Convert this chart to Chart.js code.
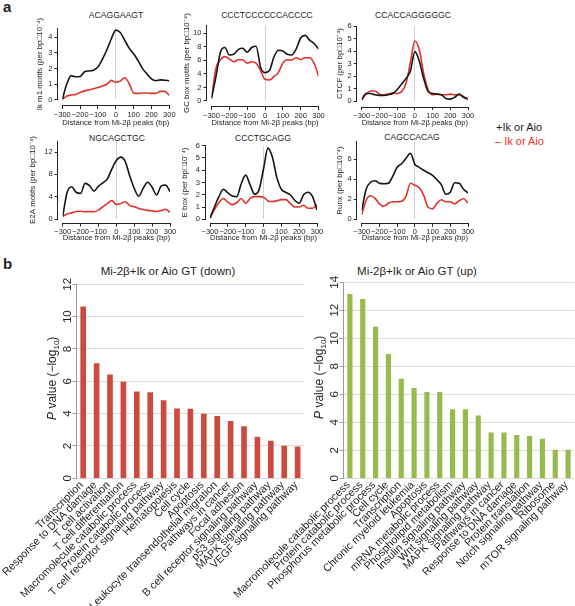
<!DOCTYPE html>
<html>
<head>
<meta charset="utf-8">
<script src="https://cdn.jsdelivr.net/npm/chart.js@4/dist/chart.umd.min.js"></script>
<style>
body { margin: 0; background: #fff; width: 575px; height: 606px; position: relative; overflow: hidden;
       font-family: "Liberation Sans", Arial, sans-serif; color: #1e1e1e; }
canvas.layer { position: absolute; left: 0; top: 0; }
.txt { position: absolute; white-space: nowrap; transform: translate(-50%, -50%); }
.panel { position: absolute; font-weight: bold; font-size: 15px; }
.motif { font-size: 8.6px; }
.btitle { font-size: 11.5px; }
.legend { position: absolute; white-space: nowrap; font-size: 11px; transform: translateY(-50%); }
</style>
</head>
<body>
<div class="panel" style="left:3px;top:-2px">a</div>
<div class="panel" style="left:3px;top:255px">b</div>

<div class="txt motif" style="left:116px;top:15px">ACAGGAAGT</div>
<div class="txt motif" style="left:267px;top:15px">CCCTCCCCCCACCCC</div>
<div class="txt motif" style="left:413px;top:15px">CCACCAGGGGGC</div>
<div class="txt motif" style="left:117px;top:138px">NGCAGCTGC</div>
<div class="txt motif" style="left:263px;top:138px">CCCTGCAGG</div>
<div class="txt motif" style="left:412px;top:137px">CAGCCACAG</div>

<div class="legend" style="left:496px;top:127px">+Ik or Aio</div>
<div class="legend" style="left:495px;top:141px;color:#e4322b">– Ik or Aio</div>

<div class="txt btitle" style="left:168px;top:271px">Mi-2β+Ik or Aio GT (down)</div>
<div class="txt btitle" style="left:417px;top:271px">Mi-2β+Ik or Aio GT (up)</div>

<canvas id="ikm1" class="layer" width="575" height="606"></canvas>
<canvas id="gcbox" class="layer" width="575" height="606"></canvas>
<canvas id="ctcf" class="layer" width="575" height="606"></canvas>
<canvas id="e2a" class="layer" width="575" height="606"></canvas>
<canvas id="ebox" class="layer" width="575" height="606"></canvas>
<canvas id="runx" class="layer" width="575" height="606"></canvas>
<canvas id="goDown" class="layer" width="575" height="606"></canvas>
<canvas id="goUp" class="layer" width="575" height="606"></canvas>

<script>
// ===== DATA =====
// distance from Mi-2b peaks (bp), sampled every 25 bp
const distanceBp = [-300, -275, -250, -225, -200, -175, -150, -125, -100, -75, -50, -25, 0,
                    25, 50, 75, 100, 125, 150, 175, 200, 225, 250, 275, 300];
const distanceTicks = [-300, -200, -100, 0, 100, 200, 300];

// motif density, +Ik or Aio (black) and - Ik or Aio (red)
const ikm1Plus  = [0.05, 1.0, 1.55, 1.48, 1.5, 1.8, 1.85, 1.9, 2.1, 2.6, 3.2, 3.9, 4.45, 4.3, 3.8, 3.3, 2.94, 2.5, 2.0, 1.66, 1.34, 1.23, 1.28, 1.26, 1.23];
const ikm1Minus = [0.05, 0.25, 0.32, 0.35, 0.48, 0.58, 0.65, 0.72, 0.8, 0.9, 1.0, 1.25, 1.12, 1.2, 1.42, 1.05, 0.45, 0.42, 0.45, 0.45, 0.42, 0.42, 0.55, 0.55, 0.3];

const gcboxPlus  = [0.4, 3.6, 7.2, 7.9, 6.8, 6.9, 7.6, 7.8, 7.2, 7.9, 8.1, 5.0, 4.2, 4.5, 6.5, 7.5, 7.4, 6.9, 6.8, 7.7, 9.3, 9.7, 9.0, 8.5, 7.7];
const gcboxMinus = [0.4, 4.8, 6.1, 6.55, 6.2, 5.8, 6.1, 6.1, 5.6, 5.8, 5.6, 4.5, 3.2, 3.1, 3.6, 4.2, 5.6, 6.1, 6.05, 6.4, 6.1, 6.4, 6.4, 5.6, 3.7];

const ctcfPlus  = [0.1, 0.6, 0.6, 0.5, 0.45, 0.45, 0.5, 0.6, 0.9, 1.35, 1.8, 2.4, 3.95, 3.2, 1.8, 0.75, 0.6, 0.55, 0.5, 0.2, 0.15, 0.3, 0.55, 0.3, 0.15];
const ctcfMinus = [0.1, 0.55, 0.8, 0.8, 0.55, 0.5, 0.55, 0.65, 0.6, 0.75, 1.4, 3.1, 4.8, 4.1, 2.2, 0.9, 0.5, 0.55, 0.5, 0.5, 0.55, 0.5, 0.5, 0.35, 0.15];

const e2aPlus  = [0.5, 4.8, 5.8, 4.8, 4.6, 6.4, 6.0, 5.0, 5.9, 6.5, 7.2, 9.0, 10.5, 11.1, 10.3, 7.7, 5.5, 4.1, 5.5, 6.6, 5.7, 4.3, 5.9, 6.1, 4.9];
const e2aMinus = [0.5, 0.9, 1.1, 1.35, 1.4, 1.3, 1.35, 1.3, 1.6, 2.2, 2.8, 3.3, 2.6, 2.8, 3.1, 2.4, 2.2, 1.9, 1.7, 1.55, 1.45, 1.35, 1.5, 1.75, 1.2];

const eboxPlus  = [0.1, 1.0, 1.85, 2.45, 2.15, 1.9, 1.85, 2.9, 3.6, 2.8, 2.05, 2.4, 4.1, 5.8, 5.05, 3.4, 2.45, 2.2, 2.0, 1.55, 1.3, 2.0, 2.2, 1.85, 0.75];
const eboxMinus = [0.1, 0.8, 1.35, 1.7, 1.4, 1.2, 1.35, 1.7, 1.3, 1.7, 1.85, 1.85, 1.8, 1.5, 1.45, 1.5, 1.6, 1.6, 1.3, 1.0, 1.0, 1.15, 0.9, 0.9, 1.2];

const runxPlus  = [0.9, 3.0, 3.7, 3.85, 3.6, 3.55, 3.6, 4.3, 5.2, 5.55, 6.1, 6.6, 5.5, 5.2, 4.9, 4.65, 4.4, 3.95, 3.45, 2.5, 2.7, 3.65, 3.6, 3.0, 2.65];
const runxMinus = [0.45, 1.9, 2.35, 2.1, 1.55, 1.3, 1.6, 1.75, 1.75, 1.8, 2.3, 3.6, 3.4, 3.15, 2.4, 1.2, 1.05, 1.6, 1.95, 1.75, 1.75, 1.55, 1.85, 2.05, 1.65];

// GO / pathway enrichment, P value (-log10)
const downTerms = ['Transcription', 'Response to DNA damage', 'T cell activation', 'T cell differentiation',
  'Macromolecule catabolic process', 'Protein catabolic process', 'T cell receptor signaling pathway',
  'Hematopoiesis', 'Cell cycle', 'Apoptosis', 'Leukocyte transendothelial migration', 'Pathways in cancer',
  'Focal adhesion', 'B cell receptor signaling pathway', 'p53 signaling pathway', 'MAPK signaling pathway',
  'VEGF signaling pathway'];
const downP = [10.6, 7.1, 6.4, 5.95, 5.35, 5.3, 4.8, 4.3, 4.28, 3.97, 3.83, 3.52, 3.2, 2.55, 2.3, 2.0, 1.95];

const upTerms = ['Macromolecule catabolic process', 'Protein catabolic process', 'Phosphorus metabolic process',
  'Cell cycle', 'Transcription', 'Chronic myeloid leukemia', 'Apoptosis', 'mRNA metabolic process',
  'Phospholipid metabolism', 'Insulin signaling pathway', 'Wnt signaling pathway', 'MAPK signaling pathway',
  'Pathways in cancer', 'Response to DNA damage', 'Protein translation', 'Notch signaling pathway',
  'Ribosome', 'mTOR signaling pathway'];
const upP = [13.14, 12.79, 10.8, 8.86, 7.09, 6.43, 6.14, 6.14, 4.9, 4.9, 4.47, 3.24, 3.24, 3.07, 3.0, 2.81, 2.02, 2.02];

const yTickDown = [0, 2, 4, 6, 8, 10, 12];
const yTickUp = [0, 2, 4, 6, 8, 10, 12, 14];

// ===== STYLE =====
const FONT = '"Liberation Sans", Arial, sans-serif';
const BLACK = '#141414';
const RED = '#e4322b';
const PAGE_W = 575, PAGE_H = 606;
const AXIS_TITLE = 7.9;

Chart.defaults.font.family = FONT;
Chart.defaults.color = '#1e1e1e';

// moves the axes off the data area (R-style detached axes)
const axisShift = {
  id: 'axisShift',
  afterLayout(chart, args, opts) {
    const { x, y } = chart.scales;
    if (opts.x) { x.top += opts.x; x.bottom += opts.x; }
    if (opts.y) { y.left += opts.y; y.right += opts.y; }
  }
};

// rotated y tick labels, y title and slanted category labels for the bar charts
const sideLabels = {
  id: 'sideLabels',
  afterDraw(chart, args, opts) {
    const { ctx, chartArea } = chart;
    const { x, y } = chart.scales;
    ctx.save();
    ctx.fillStyle = '#1e1e1e';
    ctx.textBaseline = 'middle';
    ctx.textAlign = 'center';
    ctx.font = '11.5px ' + FONT;
    y.ticks.forEach(t => {
      ctx.save();
      ctx.translate(chartArea.left - opts.tickGap, y.getPixelForValue(t.value));
      ctx.rotate(-Math.PI / 2);
      ctx.fillText(String(t.value), 0, 0);
      ctx.restore();
    });

    // category names, slanted, ending under their bar
    ctx.font = '10.8px ' + FONT;
    ctx.textAlign = 'right';
    chart.data.labels.forEach((lab, i) => {
      ctx.save();
      ctx.translate(x.getPixelForValue(i) - 1.5, chartArea.bottom + 5);
      ctx.rotate(-Math.PI / 4);
      ctx.fillText(lab, 0, 0);
      ctx.restore();
    });

    // "P value (-log10)" with italic P and subscript 10
    const parts = [
      { s: 'P', f: 'italic 12px ' + FONT, dy: 0 },
      { s: ' value (\u2212log', f: '12px ' + FONT, dy: 0 },
      { s: '10', f: '8px ' + FONT, dy: 3 },
      { s: ')', f: '12px ' + FONT, dy: 0 }
    ];
    let total = 0;
    parts.forEach(p => { ctx.font = p.f; p.w = ctx.measureText(p.s).width; total += p.w; });
    ctx.translate(chartArea.left - opts.titleGap, (chartArea.top + chartArea.bottom) / 2 - 3);
    ctx.rotate(-Math.PI / 2);
    ctx.textAlign = 'left';
    ctx.textBaseline = 'alphabetic';
    let cx = -total / 2;
    parts.forEach(p => { ctx.font = p.f; ctx.fillText(p.s, cx, 4 + p.dy); cx += p.w; });
    ctx.restore();
  }
};

function minusSign(v) {
  return String(v).replace('-', '\u2212');
}

function points(vals) {
  return distanceBp.map((d, i) => ({ x: d, y: vals[i] }));
}

// ===== MOTIF LINE CHARTS =====
function motifChart(id, plus, minus, yTitle, box) {
  const lh = AXIS_TITLE * 1.2;
  const W = box.l - 5 + lh / 2 - box.titleX;
  const H = box.xTitleY - box.b - box.xShift + lh / 2;
  new Chart(document.getElementById(id), {
    type: 'line',
    data: {
      datasets: [
        { data: points(plus), borderColor: BLACK, borderWidth: 1.6, pointRadius: 0, cubicInterpolationMode: 'monotone' },
        { data: points(minus), borderColor: RED, borderWidth: 1.6, pointRadius: 0, cubicInterpolationMode: 'monotone' }
      ]
    },
    options: {
      responsive: false,
      animation: false,
      events: [],
      layout: { padding: { left: box.l - W, right: PAGE_W - box.r, top: box.t, bottom: PAGE_H - box.b - H } },
      plugins: { legend: { display: false }, tooltip: { enabled: false }, axisShift: { x: box.xShift, y: -5 } },
      scales: {
        x: {
          type: 'linear', min: -300, max: 300,
          afterBuildTicks: s => { s.ticks = distanceTicks.map(v => ({ value: v })); },
          ticks: { font: { size: 7.5 }, color: '#1e1e1e', padding: 1, maxRotation: 0, autoSkip: false, callback: minusSign },
          grid: {
            color: c => (c.tick && c.tick.value === 0) ? '#cfcfcf' : 'rgba(0,0,0,0)',
            tickColor: '#222', tickLength: 3, lineWidth: 1
          },
          border: { color: '#222', width: 1 },
          title: { display: true, text: 'Distance from Mi-2\u03b2 peaks (bp)', font: { size: AXIS_TITLE }, padding: 0, color: '#1e1e1e' },
          afterFit: s => { s.height = H; s.paddingLeft = 0; s.paddingRight = 0; }
        },
        y: {
          min: 0, max: box.yMax,
          ticks: { stepSize: box.yStep, includeBounds: false, font: { size: 7.5 }, color: '#1e1e1e', padding: 2 },
          grid: { drawOnChartArea: false, tickColor: '#222', tickLength: 3 },
          border: { color: '#222', width: 1 },
          title: { display: true, text: yTitle, font: { size: AXIS_TITLE }, padding: 0, color: '#1e1e1e' },
          afterFit: s => { s.width = W; s.paddingTop = 0; s.paddingBottom = 0; }
        }
      }
    },
    plugins: [axisShift]
  });
}

const unit = ' (per bp\u25a110\u207b\u2074)';
motifChart('ikm1', ikm1Plus, ikm1Minus, 'Ik m1 motifs' + unit,
  { l: 62.3, r: 169.3, t: 28.2, b: 100, yMax: 4.57, yStep: 1, titleX: 40, xShift: 6, xTitleY: 123.3 });
motifChart('gcbox', gcboxPlus, gcboxMinus, 'GC box motifs' + unit,
  { l: 211.5, r: 318.5, t: 25.2, b: 101, yMax: 11.2, yStep: 2, titleX: 186.7, xShift: 6, xTitleY: 123.3 });
motifChart('ctcf', ctcfPlus, ctcfMinus, 'CTCF' + unit,
  { l: 361.7, r: 468, t: 26, b: 101, yMax: 6, yStep: 1, titleX: 340, xShift: 6, xTitleY: 123.3 });
motifChart('e2a', e2aPlus, e2aMinus, 'E2A motifs' + unit,
  { l: 62.7, r: 170, t: 141, b: 219, yMax: 14, yStep: 2, titleX: 33.3, xShift: 4.5, xTitleY: 238.3 });
motifChart('ebox', eboxPlus, eboxMinus, 'E box' + unit,
  { l: 210, r: 317, t: 145.7, b: 219.3, yMax: 6, yStep: 1, titleX: 185, xShift: 4.5, xTitleY: 238.3 });
motifChart('runx', runxPlus, runxMinus, 'Runx' + unit,
  { l: 361.7, r: 468, t: 141.8, b: 219.3, yMax: 7.75, yStep: 2, titleX: 340, xShift: 4.5, xTitleY: 238.3 });

// ===== GO BAR CHARTS =====
function goChart(id, terms, values, yTicks, color, barW, box) {
  const W = 6, H = 110;
  new Chart(document.getElementById(id), {
    type: 'bar',
    data: { labels: terms, datasets: [{ data: values, backgroundColor: color, barThickness: barW }] },
    options: {
      responsive: false,
      animation: false,
      events: [],
      layout: { padding: { left: box.l - W, right: PAGE_W - box.r, top: box.t, bottom: PAGE_H - box.b - H } },
      plugins: { legend: { display: false }, tooltip: { enabled: false }, sideLabels: { tickGap: 8.5, titleGap: 25 } },
      scales: {
        x: {
          grid: { display: false, drawTicks: false },
          border: { display: false },
          ticks: { display: false, autoSkip: false },
          afterFit: s => { s.height = H; s.paddingLeft = 0; s.paddingRight = 0; }
        },
        y: {
          min: 0, max: yTicks[yTicks.length - 1],
          afterBuildTicks: s => { s.ticks = yTicks.map(v => ({ value: v })); },
          ticks: { display: false },
          grid: { color: '#dcdcdc', tickColor: '#9a9a9a', tickLength: 4 },
          border: { color: '#9a9a9a' },
          afterFit: s => { s.width = W; s.paddingTop = 0; s.paddingBottom = 0; }
        }
      }
    },
    plugins: [sideLabels]
  });
}

goChart('goDown', downTerms, downP, yTickDown, '#cd4a40', 5, { l: 76.5, r: 304.3, t: 284.3, b: 478.3 });
goChart('goUp', upTerms, upP, yTickUp, '#95bb4b', 4.5, { l: 343.5, r: 574.5, t: 282.3, b: 478.3 });
</script>
</body>
</html>
